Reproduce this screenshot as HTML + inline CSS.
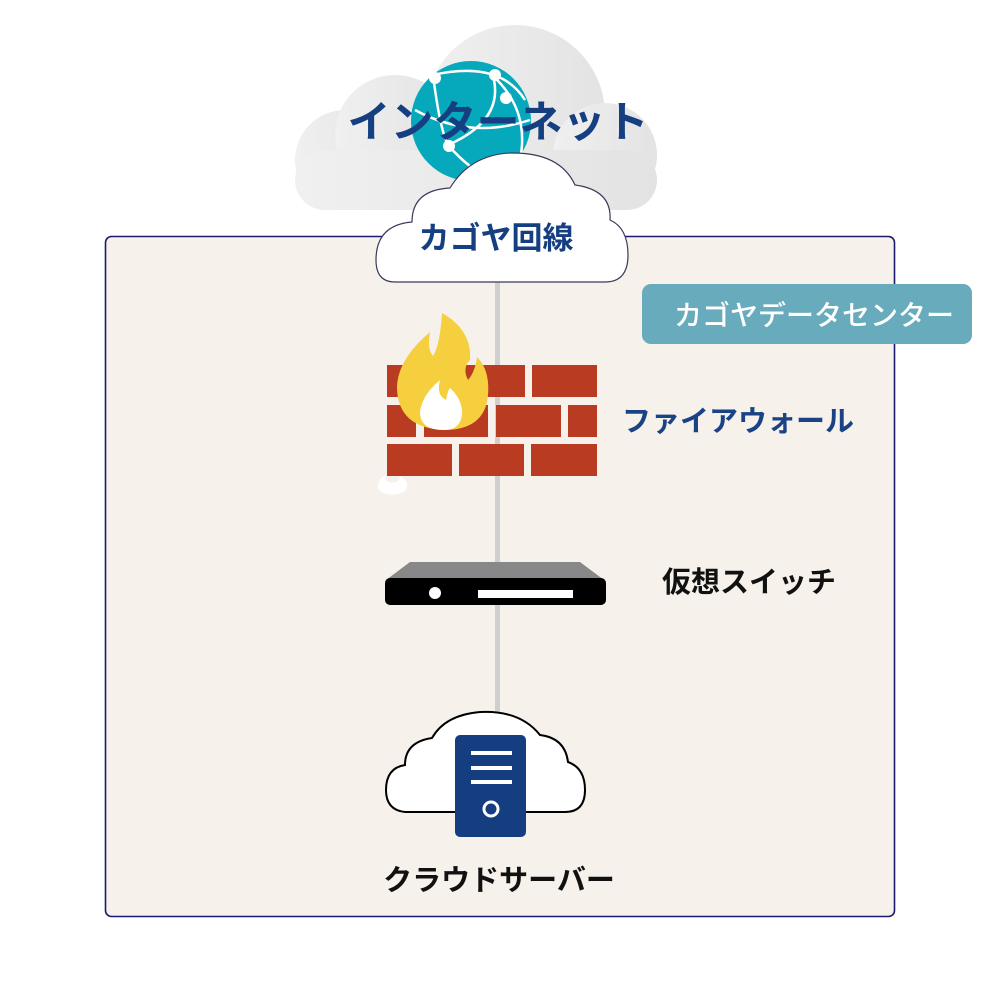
<!DOCTYPE html>
<html><head><meta charset="utf-8"><style>
html,body{margin:0;padding:0;background:#fff;}
svg{display:block}
text{font-family:"Liberation Sans","Noto Sans CJK JP",sans-serif;font-weight:bold}
</style></head><body>
<svg width="996" height="996" viewBox="0 0 996 996" xmlns="http://www.w3.org/2000/svg">
<defs>
<linearGradient id="g" x1="0" x2="1"><stop offset="0" stop-color="#f0f0f0"/><stop offset="1" stop-color="#e3e3e3"/></linearGradient>
</defs>
<!-- grey cloud -->
<g fill="url(#g)">
<circle cx="345" cy="160" r="50"/>
<circle cx="395" cy="135" r="60"/>
<circle cx="515" cy="115" r="90"/>
<circle cx="605" cy="155" r="52"/>
<rect x="295" y="150" width="362" height="60" rx="30"/>
</g>
<!-- globe -->
<circle cx="471" cy="121" r="60" fill="#05a9bb"/>
<g stroke="#fff" stroke-width="2.5" fill="none">
<path d="M433 75 Q500 60 525 100"/>
<path d="M433 75 Q440 130 448 145 Q470 170 490 178"/>
<path d="M493 76 Q505 120 448 145"/>
<path d="M493 76 Q530 110 520 160"/>
<path d="M415 110 Q470 140 530 120"/>
</g>
<g fill="#fff"><circle cx="435" cy="78" r="6"/><circle cx="495" cy="75" r="6"/><circle cx="506" cy="98" r="6"/><circle cx="449" cy="146" r="6"/></g>
<text x="498" y="137" font-size="43" fill="#163f82" text-anchor="middle">インターネット</text>
<!-- data center box -->
<rect x="105.5" y="236.5" width="789" height="680" rx="6" fill="#f6f2eb" stroke="#1a1a6e" stroke-width="1.6"/>
<!-- connector -->
<rect x="495" y="280" width="5" height="434" fill="#cfcfcf"/>
<!-- kagoya cloud -->
<path d="M395 282 Q376 282 376 260 Q376 225 412 222 Q412 190 450 188 Q470 155 510 153 Q560 152 575 185 Q612 190 610 220 Q628 228 628 255 Q628 282 605 282 Z" fill="#fff" stroke="#3a3a5a" stroke-width="1.2"/>
<text x="496" y="249" font-size="31" fill="#163f82" text-anchor="middle">カゴヤ回線</text>
<!-- badge -->
<rect x="642" y="284" width="330" height="60" rx="9" fill="#68abbc"/>
<text x="814" y="325" font-size="28" fill="#fff" font-weight="normal" style="font-weight:500" text-anchor="middle">カゴヤデータセンター</text>
<!-- bricks -->
<g fill="#b83b22">
<rect x="387" y="365" width="138" height="32"/><rect x="532" y="365" width="65" height="32"/>
<rect x="387" y="405" width="29" height="32"/><rect x="424" y="405" width="64" height="32"/><rect x="496" y="405" width="65" height="32"/><rect x="568" y="405" width="29" height="32"/>
<rect x="387" y="444" width="65" height="32"/><rect x="459" y="444" width="65" height="32"/><rect x="531" y="444" width="66" height="32"/>
</g>
<!-- flame -->
<path d="M444 430 Q398 428 397 388 Q397 360 430 332 Q427 350 433 356 Q440 345 442 313 Q472 330 470 360 Q462 368 468 380 Q475 372 477 357 Q490 370 488 395 Q485 430 444 430 Z" fill="#f5cf3e"/>
<path d="M444 430 Q420 430 420 412 Q422 395 440 380 Q436 395 446 400 Q448 390 450 388 Q463 400 462 415 Q460 430 444 430 Z" fill="#fff"/>
<path d="M378 487 Q378 478 386 475 Q384 482 392 483 Q400 482 400 476 Q410 482 406 490 Q398 496 388 494 Q379 493 378 487Z" fill="#fff"/>
<text x="622" y="431" font-size="29" fill="#1a4385">ファイアウォール</text>
<!-- switch -->
<path d="M410 562 L580 562 L604 580 L386 580 Z" fill="#888"/>
<rect x="385" y="578" width="221" height="27" rx="5" fill="#000"/>
<circle cx="435" cy="593" r="6" fill="#fff"/>
<rect x="478" y="590" width="95" height="8" fill="#fff"/>
<text x="662" y="592" font-size="29" fill="#111">仮想スイッチ</text>
<!-- server cloud -->
<path d="M405 812 Q386 810 386 790 Q386 768 405 765 Q405 742 432 738 Q445 715 480 712 Q520 710 540 735 Q565 738 568 762 Q585 768 585 790 Q585 812 565 812 Z" fill="#fff" stroke="#000" stroke-width="2"/>
<rect x="455" y="735" width="71" height="102" rx="5" fill="#143e80"/>
<g fill="#fff"><rect x="471" y="751" width="41" height="4"/><rect x="471" y="766" width="41" height="4"/><rect x="471" y="780" width="41" height="4"/></g>
<circle cx="491" cy="809" r="7" fill="none" stroke="#fff" stroke-width="3"/>
<text x="499" y="890" font-size="29" fill="#111" text-anchor="middle">クラウドサーバー</text>
</svg>
</body></html>
